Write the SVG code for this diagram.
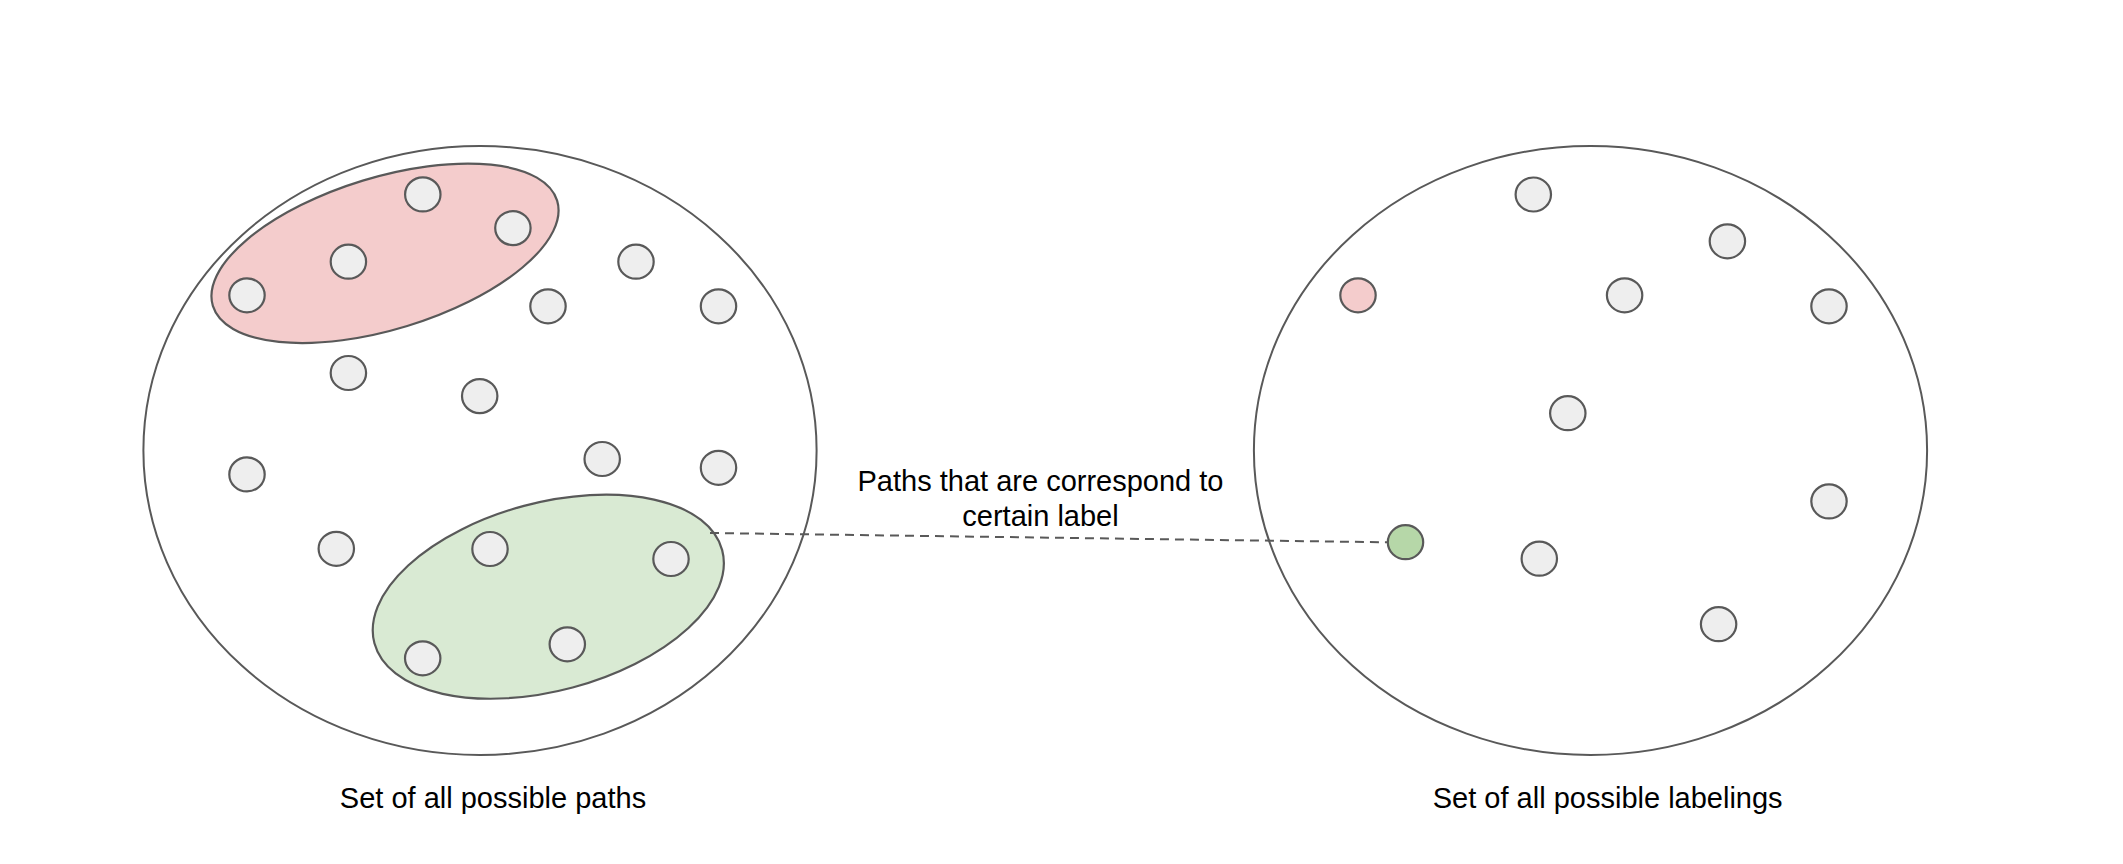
<svg xmlns="http://www.w3.org/2000/svg" width="2123" height="864" viewBox="0 0 2123 864">
<style>
.set{fill:#ffffff;stroke:#595959;stroke-width:2}
.grp{stroke:#595959;stroke-width:2.2}
.dot{fill:#eeeeee;stroke:#595959;stroke-width:2.2}
.lbl{font-family:"Liberation Sans",Arial,sans-serif;font-size:29px;fill:#000000;text-anchor:middle}
.conn{fill:none;stroke:#595959;stroke-width:2;stroke-dasharray:9 6}
</style>
<rect width="2123" height="864" fill="#ffffff"/>
<g id="paths-set">
<ellipse class="set" cx="480" cy="450.5" rx="336.6" ry="304.5"/>
</g>
<g id="labelings-set">
<ellipse class="set" cx="1590.5" cy="450.5" rx="336.6" ry="304.5"/>
</g>
<g id="red-group">
<ellipse class="grp" fill="#f4cccc" cx="385" cy="253.3" rx="180" ry="76" transform="rotate(-17 385 253.3)"/>
</g>
<g id="green-group">
<ellipse class="grp" fill="#d9ead3" cx="548.3" cy="596.7" rx="180" ry="94" transform="rotate(-15 548.3 596.7)"/>
</g>
<g id="path-dots">
<ellipse class="dot" cx="422.8" cy="194.4" rx="17.7" ry="17"/>
<ellipse class="dot" cx="512.9" cy="228.1" rx="17.7" ry="17"/>
<ellipse class="dot" cx="348.4" cy="261.7" rx="17.7" ry="17"/>
<ellipse class="dot" cx="247" cy="295.3" rx="17.7" ry="17"/>
<ellipse class="dot" cx="636" cy="261.7" rx="17.7" ry="17"/>
<ellipse class="dot" cx="548" cy="306.3" rx="17.7" ry="17"/>
<ellipse class="dot" cx="718.5" cy="306.3" rx="17.7" ry="17"/>
<ellipse class="dot" cx="348.4" cy="373" rx="17.7" ry="17"/>
<ellipse class="dot" cx="479.7" cy="396.1" rx="17.7" ry="17"/>
<ellipse class="dot" cx="247" cy="474.4" rx="17.7" ry="17"/>
<ellipse class="dot" cx="602.2" cy="459" rx="17.7" ry="17"/>
<ellipse class="dot" cx="718.5" cy="467.8" rx="17.7" ry="17"/>
<ellipse class="dot" cx="336.3" cy="548.8" rx="17.7" ry="17"/>
<ellipse class="dot" cx="490" cy="549" rx="17.7" ry="17"/>
<ellipse class="dot" cx="671" cy="559" rx="17.7" ry="17"/>
<ellipse class="dot" cx="422.7" cy="658.3" rx="17.7" ry="17"/>
<ellipse class="dot" cx="567.3" cy="644.3" rx="17.7" ry="17"/>
</g>
<g id="label-dots">
<ellipse class="dot" cx="1533.3" cy="194.5" rx="17.7" ry="17"/>
<ellipse class="dot" cx="1727.4" cy="241.3" rx="17.7" ry="17"/>
<ellipse class="dot" fill="#f4cccc" style="fill:#f4cccc" cx="1358" cy="295.3" rx="17.7" ry="17"/>
<ellipse class="dot" cx="1624.6" cy="295.3" rx="17.7" ry="17"/>
<ellipse class="dot" cx="1829" cy="306.3" rx="17.7" ry="17"/>
<ellipse class="dot" cx="1567.8" cy="413.2" rx="17.7" ry="17"/>
<ellipse class="dot" cx="1829" cy="501.4" rx="17.7" ry="17"/>
<ellipse class="dot" style="fill:#b6d7a8" cx="1405.5" cy="542.2" rx="17.7" ry="17"/>
<ellipse class="dot" cx="1539.3" cy="558.7" rx="17.7" ry="17"/>
<ellipse class="dot" cx="1718.6" cy="624.2" rx="17.7" ry="17"/>
</g>
<g id="connectors">
<line class="conn" x1="710" y1="533" x2="1387" y2="542.3"/>
</g>
<g id="labels">
<text class="lbl" x="1040.5" y="491">Paths that are correspond to</text>
<text class="lbl" x="1040.5" y="526">certain label</text>
<text class="lbl" x="493" y="808">Set of all possible paths</text>
<text class="lbl" x="1607.7" y="808">Set of all possible labelings</text>
</g>
</svg>
